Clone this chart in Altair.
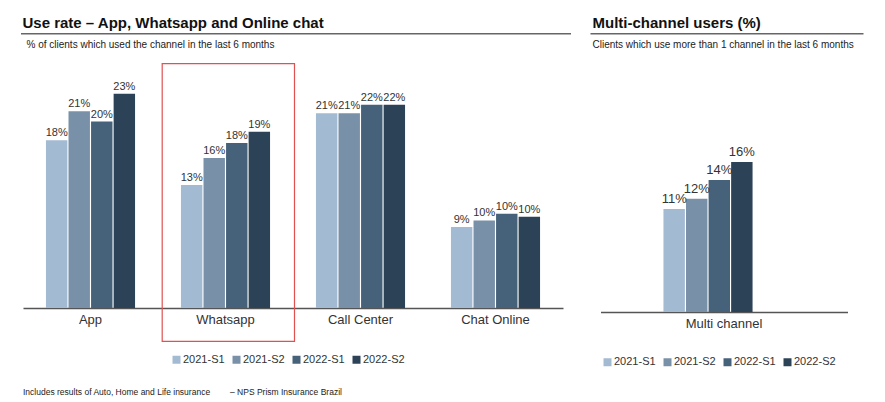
import altair as alt
import pandas as pd

periods = ["2021-S1", "2021-S2", "2022-S1", "2022-S2"]
colors = ["#A3BAD3", "#7890A8", "#46627A", "#2C4357"]

channels = ["App", "Whatsapp", "Call Center", "Chat Online"]
app = [18.0, 21.1, 20.0, 23.0]
whatsapp = [13.2, 16.1, 17.7, 18.9]
call_center = [20.9, 20.9, 21.8, 21.8]
chat_online = [8.7, 9.4, 10.1, 9.8]
app_lbl = ["18%", "21%", "20%", "23%"]
whatsapp_lbl = ["13%", "16%", "18%", "19%"]
call_center_lbl = ["21%", "21%", "22%", "22%"]
chat_online_lbl = ["9%", "10%", "10%", "10%"]

multi_cat = ["Multi channel"]
multi = [11.0, 12.1, 14.1, 16.0]
multi_lbl = ["11%", "12%", "14%", "16%"]

FONT = "Liberation Sans"
TXT = "#333333"

rows = []
for ch, vals, lbls in zip(channels, [app, whatsapp, call_center, chat_online],
                          [app_lbl, whatsapp_lbl, call_center_lbl, chat_online_lbl]):
    for p, v, l in zip(periods, vals, lbls):
        rows.append({"channel": ch, "period": p, "value": v, "label": l})
left_df = pd.DataFrame(rows)

right_df = pd.DataFrame({"channel": multi_cat * 4, "period": periods,
                         "value": multi, "label": multi_lbl})

one = pd.DataFrame({"k": [0]})


def legend(x, y):
    return alt.Legend(title=None, orient="none", legendX=x, legendY=y,
                      direction="horizontal", columns=4, symbolType="square",
                      symbolSize=64, symbolStrokeWidth=0, labelFontSize=11,
                      labelFont=FONT, labelColor=TXT, labelOffset=1,
                      columnPadding=6, padding=0)


def panel(df, cats, width, height, ydom, pin, pout, lfs, ldy, leg):
    base = alt.Chart(df).encode(
        x=alt.X("channel:N", sort=cats,
                scale=alt.Scale(paddingInner=pin, paddingOuter=pout),
                axis=alt.Axis(title=None, labelAngle=0, labelFontSize=13,
                              labelFont=FONT, labelColor=TXT, ticks=False,
                              domainColor="#555555", domainWidth=1.5,
                              labelPadding=5)),
        xOffset=alt.XOffset("period:N", sort=periods,
                            scale=alt.Scale(paddingInner=0.05)),
        y=alt.Y("value:Q", scale=alt.Scale(domain=ydom), axis=None),
    )
    bars = base.mark_bar().encode(
        color=alt.Color("period:N", sort=periods,
                        scale=alt.Scale(domain=periods, range=colors),
                        legend=leg))
    text = base.mark_text(dy=ldy, baseline="alphabetic", fontSize=lfs,
                          font=FONT, color=TXT).encode(text="label:N")
    return bars, text


lb, lt = panel(left_df, channels, 540, 233, [0, 25], 0.34, 0.17, 11, -4,
               legend(148, 279))

l_title = alt.Chart(one).mark_text(align="left", baseline="alphabetic",
                                   fontSize=15, fontWeight="bold", font=FONT,
                                   color="#111111").encode(
    x=alt.value(-0.5), y=alt.value(-47.5),
    text=alt.value("Use rate – App, Whatsapp and Online chat"))
l_rule = alt.Chart(one).mark_rule(color="#666666", strokeWidth=1.5).encode(
    x=alt.value(-2), x2=alt.value(548), y=alt.value(-41.3))
l_sub = alt.Chart(one).mark_text(align="left", baseline="alphabetic",
                                 fontSize=10, font=FONT, color="#222222").encode(
    x=alt.value(3.5), y=alt.value(-27.5),
    text=alt.value("% of clients which used the channel in the last 6 months"))
l_box = alt.Chart(one).mark_rect(fillOpacity=0, stroke="#E05252",
                                 strokeWidth=1.2).encode(
    x=alt.value(139.2), x2=alt.value(271.5), y=alt.value(-11.4),
    y2=alt.value(266.3))
foot1 = alt.Chart(one).mark_text(align="left", baseline="middle", fontSize=8.5,
                                 font=FONT, color="#222222").encode(
    x=alt.value(0), y=alt.value(316.5),
    text=alt.value("Includes results of Auto, Home and Life insurance"))
foot2 = alt.Chart(one).mark_text(align="left", baseline="middle", fontSize=8.5,
                                 font=FONT, color="#222222").encode(
    x=alt.value(207), y=alt.value(316.5),
    text=alt.value("– NPS Prism Insurance Brazil"))

left = alt.layer(lb, lt, l_box, l_title, l_rule, l_sub, foot1, foot2).properties(
    width=540, height=233)

rb, rt = panel(right_df, multi_cat, 247, 237, [0, 25.3], 0.0, 0.52, 13, -6,
               legend(1.5, 281.5))
r_title = alt.Chart(one).mark_text(align="left", baseline="alphabetic",
                                   fontSize=15, fontWeight="bold", font=FONT,
                                   color="#111111").encode(
    x=alt.value(-8), y=alt.value(-47.5),
    text=alt.value("Multi-channel users (%)"))
r_rule = alt.Chart(one).mark_rule(color="#666666", strokeWidth=1.5).encode(
    x=alt.value(-10), x2=alt.value(263), y=alt.value(-41.3))
r_sub = alt.Chart(one).mark_text(align="left", baseline="alphabetic",
                                 fontSize=10, font=FONT, color="#222222").encode(
    x=alt.value(-8), y=alt.value(-27.5),
    text=alt.value("Clients which use more than 1 channel in the last 6 months"))

right = alt.layer(rb, rt, r_title, r_rule, r_sub).properties(width=247, height=237)

chart = alt.hconcat(left, right, spacing=37.5, bounds="flush").resolve_legend(
    color="independent").resolve_scale(x="independent", y="independent",
                                       color="shared").properties(
    padding={"left": 12, "top": 7, "right": 5, "bottom": 5},
    background="white",
).configure_view(strokeWidth=0)

chart.save("out.html", embed_options={"renderer": "svg", "actions": False})
